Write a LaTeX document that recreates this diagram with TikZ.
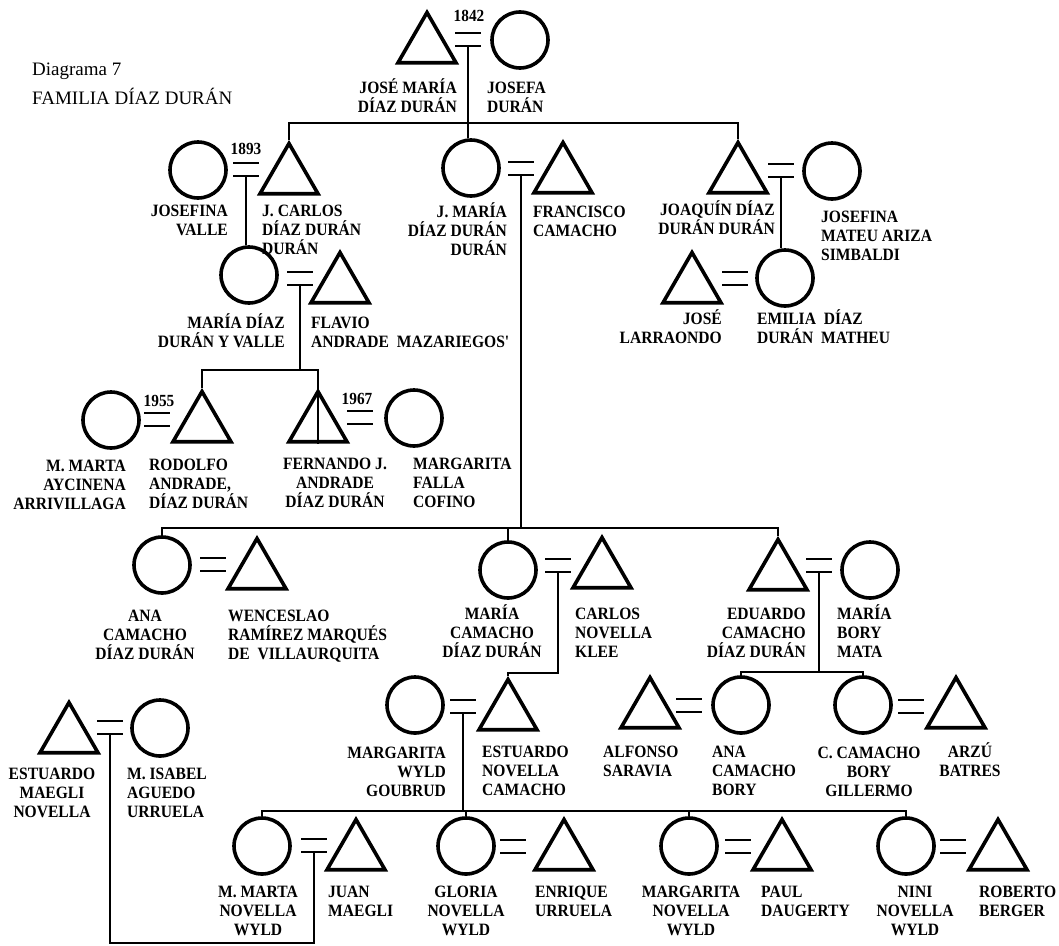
\documentclass[tikz,border=0pt]{standalone}
\usepackage{fontspec}
\setmainfont{Liberation Serif}
\newfontfamily\namefont{Liberation Serif}[FakeStretch=0.9]
\usetikzlibrary{shapes.geometric}
\tikzset{
  >=latex,
}
\tikzstyle{male}=[draw,regular polygon,regular polygon sides=3,minimum size=67pt,inner sep=0pt,line width=3.6pt]
\tikzstyle{female}=[draw,circle,minimum size=56pt,inner sep=0pt,line width=3.6pt]
\tikzstyle{link}=[line width=1.9pt]
\tikzstyle{wed}=[line width=2.4pt]
\tikzstyle{who}=[font=\namefont\bfseries\fontsize{17.3}{19}\selectfont,inner sep=0pt]
\tikzstyle{year}=[font=\namefont\bfseries\fontsize{17}{17}\selectfont,inner sep=0pt]
\tikzstyle{title}=[font=\fontsize{19}{23}\selectfont,inner sep=0pt,anchor=base west]

\begin{document}
\begin{tikzpicture}[x=1pt,y=-1pt]
  \useasboundingbox (0,0) rectangle (1059,945);
  \node[title] (dia) at (32,75) {Diagrama 7};
  \node[title] (fam) at (32,104) {FAMILIA DÍAZ DURÁN};

  \node[male] (jmdiaz) at (427,46) {};
  \node[female] (jduran) at (520,40) {};
  \node[female] (jvalle) at (198,170) {};
  \node[male] (jcarlos) at (289,177) {};
  \node[female] (jmaria) at (471,168) {};
  \node[male] (fcamacho) at (563,176) {};
  \node[male] (joaquin) at (738,176) {};
  \node[female] (jmateu) at (832,171) {};
  \node[female] (mdiaz) at (249,275) {};
  \node[male] (flavio) at (340,286) {};
  \node[male] (larraondo) at (692,286) {};
  \node[female] (emilia) at (785,278) {};
  \node[female] (aycinena) at (111,420) {};
  \node[male] (rodolfo) at (202,425) {};
  \node[male] (fernando) at (318,425) {};
  \node[female] (mfalla) at (414,418) {};
  \node[female] (anac) at (162,565) {};
  \node[male] (wenceslao) at (257,572) {};
  \node[female] (mariac) at (508,570) {};
  \node[male] (cnovella) at (602,571) {};
  \node[male] (eduardo) at (778,573) {};
  \node[female] (mbory) at (870,570) {};
  \node[female] (mwyld) at (415,705) {};
  \node[male] (enovella) at (508,713) {};
  \node[male] (saravia) at (650,711) {};
  \node[female] (anabory) at (741,705) {};
  \node[female] (ccamacho) at (863,705) {};
  \node[male] (arzu) at (956,711) {};
  \node[male] (emaegli) at (69,736) {};
  \node[female] (misabel) at (160,728) {};
  \node[female] (mmarta) at (262,846) {};
  \node[male] (jmaegli) at (356,853) {};
  \node[female] (gloria) at (466,846) {};
  \node[male] (enrique) at (564,853) {};
  \node[female] (mnovella) at (689,846) {};
  \node[male] (paul) at (782,853) {};
  \node[female] (nini) at (906,846) {};
  \node[male] (roberto) at (998,853) {};
  \draw[link] (fernando.north) -- (fernando.south);

  \coordinate (w1) at (468,46);
  \coordinate (w2) at (246,176);
  \coordinate (w3) at (521,175);
  \coordinate (w4) at (781,177);
  \coordinate (w5) at (300,285);
  \coordinate (w6) at (735,285);
  \coordinate (w7) at (157,426);
  \coordinate (w8) at (360,424);
  \coordinate (w9) at (213,571);
  \coordinate (w10) at (558,572);
  \coordinate (w11) at (819,572);
  \coordinate (w12) at (689,712);
  \coordinate (w13) at (911,713);
  \coordinate (w14) at (463,713);
  \coordinate (w15) at (110,734);
  \coordinate (w16) at (314,852);
  \coordinate (w17) at (513,853);
  \coordinate (w18) at (738,853);
  \coordinate (w19) at (953,853);
  \foreach \i in {1,...,19}
    \draw[wed] (w\i) ++(-13,-13) -- +(26,0) (w\i) ++(-13,0) -- +(26,0);

  \node[year] (y1842) at (469,16) {1842};
  \node[year] (y1893) at (246,149) {1893};
  \node[year] (y1955) at (159,401) {1955};
  \node[year] (y1967) at (357,399) {1967};

  \coordinate (b1) at (468,123);
  \coordinate (b3) at (521,528);
  \coordinate (b5) at (300,370);
  \coordinate (b10) at (558,673);
  \coordinate (b11) at (819,672);
  \coordinate (b14) at (463,811);
  \coordinate (b15) at (110,943);
  \draw[link] (w1) -- (w1 |- jmaria.north);
  \draw[link] (jcarlos.north) |- (b1) -| (joaquin.north);
  \draw[link] (w2) -- (w2 |- mdiaz.north);
  \draw[link] (w3) -- (b3);
  \draw[link] (anac.north) |- (b3) -| (eduardo.north);
  \draw[link] (mariac.north) -- (mariac.north |- b3);
  \draw[link] (w4) -- (w4 |- emilia.north);
  \draw[link] (w5) -- (b5);
  \draw[link] (rodolfo.north) |- (b5) -| (fernando.north);
  \draw[link] (w10) -- (b10) -| (enovella.north);
  \draw[link] (w11) -- (b11);
  \draw[link] (anabory.north) |- (b11) -| (ccamacho.north);
  \draw[link] (w14) -- (b14);
  \draw[link] (mmarta.north) |- (b14) -| (nini.north);
  \draw[link] (gloria.north) -- (gloria.north |- b14);
  \draw[link] (mnovella.north) -- (mnovella.north |- b14);
  \draw[link] (w15) -- (b15) -| (w16);

  \node[who,align=right,anchor=base east] (t1) at (457,112) {JOSÉ MARÍA\\DÍAZ DURÁN};
  \node[who,align=left,anchor=base west] (t2) at (487,112) {JOSEFA\\DURÁN};
  \node[who,align=right,anchor=base east] (t3) at (228,235) {JOSEFINA\\VALLE};
  \node[who,align=left,anchor=base west] (t4) at (262,254) {J. CARLOS\\DÍAZ DURÁN\\DURÁN};
  \node[who,align=right,anchor=base east] (t5) at (507,255) {J. MARÍA\\DÍAZ DURÁN\\DURÁN};
  \node[who,align=left,anchor=base west] (t6) at (533,236) {FRANCISCO\\CAMACHO};
  \node[who,align=right,anchor=base east] (t7) at (775,234) {JOAQUÍN DÍAZ\\DURÁN DURÁN};
  \node[who,align=left,anchor=base west] (t8) at (821,260) {JOSEFINA\\MATEU ARIZA\\SIMBALDI};
  \node[who,align=right,anchor=base east] (t9) at (285,347) {MARÍA DÍAZ\\DURÁN Y VALLE};
  \node[who,align=left,anchor=base west] (t10) at (311,347) {FLAVIO\\ANDRADE\ \ MAZARIEGOS'};
  \node[who,align=right,anchor=base east] (t11) at (722,343) {JOSÉ\\LARRAONDO};
  \node[who,align=left,anchor=base west] (t12) at (757,343) {EMILIA\ \ DÍAZ\\DURÁN\ \ MATHEU};
  \node[who,align=right,anchor=base east] (t13) at (126,509) {M. MARTA\\AYCINENA\\ARRIVILLAGA};
  \node[who,align=left,anchor=base west] (t14) at (149,508) {RODOLFO\\ANDRADE,\\DÍAZ DURÁN};
  \node[who,align=center,anchor=base] (t15) at (335,507) {FERNANDO J.\\ANDRADE\\DÍAZ DURÁN};
  \node[who,align=left,anchor=base west] (t16) at (413,507) {MARGARITA\\FALLA\\COFINO};
  \node[who,align=center,anchor=base] (t17) at (145,659) {ANA\\CAMACHO\\DÍAZ DURÁN};
  \node[who,align=left,anchor=base west] (t18) at (228,659) {WENCESLAO\\RAMÍREZ MARQUÉS\\DE\ \ VILLAURQUITA};
  \node[who,align=center,anchor=base] (t19) at (492,657) {MARÍA\\CAMACHO\\DÍAZ DURÁN};
  \node[who,align=left,anchor=base west] (t20) at (575,657) {CARLOS\\NOVELLA\\KLEE};
  \node[who,align=right,anchor=base east] (t21) at (806,657) {EDUARDO\\CAMACHO\\DÍAZ DURÁN};
  \node[who,align=left,anchor=base west] (t22) at (837,657) {MARÍA\\BORY\\MATA};
  \node[who,align=right,anchor=base east] (t23) at (446,796) {MARGARITA\\WYLD\\GOUBRUD};
  \node[who,align=left,anchor=base west] (t24) at (482,795) {ESTUARDO\\NOVELLA\\CAMACHO};
  \node[who,align=left,anchor=base west] (t25) at (603,776) {ALFONSO\\SARAVIA};
  \node[who,align=left,anchor=base west] (t26) at (712,795) {ANA\\CAMACHO\\BORY};
  \node[who,align=center,anchor=base] (t27) at (869,796) {C. CAMACHO\\BORY\\GILLERMO};
  \node[who,align=center,anchor=base] (t28) at (970,776) {ARZÚ\\BATRES};
  \node[who,align=center,anchor=base] (t29) at (52,817) {ESTUARDO\\MAEGLI\\NOVELLA};
  \node[who,align=left,anchor=base west] (t30) at (127,817) {M. ISABEL\\AGUEDO\\URRUELA};
  \node[who,align=center,anchor=base] (t31) at (258,935) {M. MARTA\\NOVELLA\\WYLD};
  \node[who,align=left,anchor=base west] (t32) at (328,916) {JUAN\\MAEGLI};
  \node[who,align=center,anchor=base] (t33) at (466,935) {GLORIA\\NOVELLA\\WYLD};
  \node[who,align=left,anchor=base west] (t34) at (535,916) {ENRIQUE\\URRUELA};
  \node[who,align=center,anchor=base] (t35) at (691,935) {MARGARITA\\NOVELLA\\WYLD};
  \node[who,align=left,anchor=base west] (t36) at (761,916) {PAUL\\DAUGERTY};
  \node[who,align=center,anchor=base] (t37) at (915,935) {NINI\\NOVELLA\\WYLD};
  \node[who,align=left,anchor=base west] (t38) at (979,916) {ROBERTO\\BERGER};
\end{tikzpicture}
\end{document}
